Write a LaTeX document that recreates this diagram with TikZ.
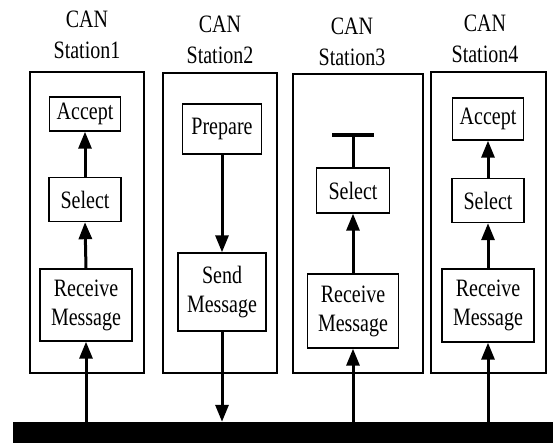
\documentclass[tikz,border=0pt]{standalone}
\usepackage{fontspec}
\setmainfont{Liberation Serif}[FakeStretch=0.8]
\usetikzlibrary{arrows.meta}
\begin{document}
\begin{tikzpicture}[x=1pt,y=-1pt,
  station/.style={draw, line width=1.8pt, inner sep=0pt},
  box/.style={draw, line width=1.4pt, inner sep=0pt, align=center, font=\fontsize{25}{29}\selectfont},
  title/.style={align=center, inner sep=0pt, font=\fontsize{25}{31}\selectfont},
  arr/.style={line width=3pt, -{Triangle[width=13pt,length=17pt]}},
  stem/.style={line width=3pt},
  tbarstyle/.style={line width=4.5pt}]
\useasboundingbox (0,0) rectangle (553,443);

% bus
\node[fill=black, inner sep=0pt, minimum width=540pt, minimum height=21pt] (bus) at (283,432.5) {};

% station 1
\node[station, minimum width=114pt, minimum height=301pt] (st1) at (87,222.5) {};
\node[title] (t1) at (87,35) {CAN\\Station1};
\node[box, minimum width=71pt, minimum height=34pt] (s1acc) at (85,114) {Accept};
\node[box, minimum width=72pt, minimum height=44pt] (s1sel) at (85,199.5) {Select};
\node[box, minimum width=92pt, minimum height=72pt] (s1rec) at (86,305) {Receive\\Message};
\draw[arr] (s1rec |- bus.north) -- (s1rec.south);
\draw[arr] (s1rec.north) -- (s1sel.south);
\draw[arr] (s1sel.north) -- (s1acc.south);

% station 2
\node[station, minimum width=114pt, minimum height=300pt] (st2) at (220,223) {};
\node[title] (t2) at (220,40) {CAN\\Station2};
\node[box, minimum width=79pt, minimum height=50pt] (s2prep) at (222,129) {Prepare};
\node[box, minimum width=88pt, minimum height=78pt] (s2send) at (222,292) {Send\\Message};
\draw[arr] (s2prep.south) -- (s2send.north);
\draw[arr] (s2send.south) -- (s2send |- bus.north);

% station 3
\node[station, minimum width=130pt, minimum height=299pt] (st3) at (358,223.5) {};
\node[title] (t3) at (352,42) {CAN\\Station3};
\coordinate (tbar) at (353,135);
\node[box, minimum width=73pt, minimum height=45pt] (s3sel) at (353,190.5) {Select};
\node[box, minimum width=91pt, minimum height=74pt] (s3rec) at (353,311) {Receive\\Message};
\draw[tbarstyle] ([xshift=-21pt]tbar) -- ([xshift=21pt]tbar);
\draw[stem] (tbar) -- (s3sel.north);
\draw[arr] (s3rec.north) -- (s3sel.south);
\draw[arr] (s3rec |- bus.north) -- (s3rec.south);

% station 4
\node[station, minimum width=115pt, minimum height=301pt] (st4) at (488.5,222.5) {};
\node[title] (t4) at (485,39) {CAN\\Station4};
\node[box, minimum width=71pt, minimum height=42pt] (s4acc) at (488,119) {Accept};
\node[box, minimum width=72pt, minimum height=44pt] (s4sel) at (488,200.5) {Select};
\node[box, minimum width=92pt, minimum height=73pt] (s4rec) at (488,305.5) {Receive\\Message};
\draw[arr] (s4rec |- bus.north) -- (s4rec.south);
\draw[arr] (s4rec.north) -- (s4sel.south);
\draw[arr] (s4sel.north) -- (s4acc.south);
\end{tikzpicture}
\end{document}
